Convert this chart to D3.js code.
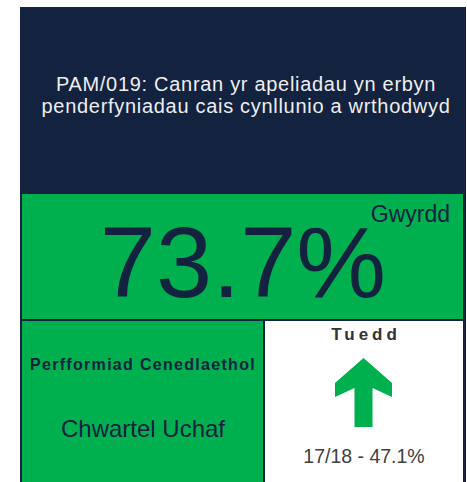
<!DOCTYPE html>
<html>
<head>
<meta charset="utf-8">
<script src="https://cdn.jsdelivr.net/npm/d3@7"></script>
<style>
  body { margin: 0; background: #fff; }
  svg { display: block; font-family: "Liberation Sans", Arial, sans-serif; }
</style>
</head>
<body>
<svg width="467" height="482"></svg>
<script>
// Card content
const titleLines = [
  "PAM/019: Canran yr apeliadau yn erbyn",
  "penderfyniadau cais cynllunio a wrthodwyd"
];
const kpiValue = [73.7];
const ragStatus = ["Gwyrdd"];
const nationalLabel = ["Perfformiad Cenedlaethol"];
const nationalQuartile = ["Chwartel Uchaf"];
const trendLabel = ["Tuedd"];
const trendDirection = ["up"];
const previousPeriod = ["17/18"];
const previousValue = [47.1];

const navy = "#13223e";
const green = "#00b04f";
const fmt = d3.format(".1f");

const svg = d3.select("svg");

// outer card (navy shows through as borders)
svg.append("rect")
  .attr("x", 20).attr("y", 7)
  .attr("width", 446).attr("height", 480)
  .attr("fill", navy);

// title
const title = svg.append("text")
  .attr("text-anchor", "middle")
  .attr("fill", "#eeeeee")
  .attr("font-size", 20)
  .attr("letter-spacing", 0.7);

title.selectAll("tspan")
  .data(titleLines)
  .join("tspan")
  .attr("x", 246)
  .attr("y", (d, i) => 91 + i * 22)
  .text(d => d);

// main value panel
svg.append("rect")
  .attr("x", 22).attr("y", 194)
  .attr("width", 441).attr("height", 125)
  .attr("fill", green);

svg.append("text")
  .attr("x", 243).attr("y", 297)
  .attr("text-anchor", "middle")
  .attr("fill", navy)
  .attr("font-size", 101)
  .text(fmt(kpiValue[0]) + "%");

svg.append("text")
  .attr("x", 450).attr("y", 222)
  .attr("text-anchor", "end")
  .attr("fill", navy)
  .attr("font-size", 23)
  .text(ragStatus[0]);

// national performance panel
svg.append("rect")
  .attr("x", 22).attr("y", 321)
  .attr("width", 241).attr("height", 170)
  .attr("fill", green);

svg.append("text")
  .attr("x", 143).attr("y", 370)
  .attr("text-anchor", "middle")
  .attr("fill", navy)
  .attr("font-size", 16)
  .attr("font-weight", "bold")
  .attr("letter-spacing", 1.3)
  .text(nationalLabel[0]);

svg.append("text")
  .attr("x", 143).attr("y", 437)
  .attr("text-anchor", "middle")
  .attr("fill", navy)
  .attr("font-size", 24)
  .text(nationalQuartile[0]);

// trend panel
svg.append("rect")
  .attr("x", 265).attr("y", 321)
  .attr("width", 198).attr("height", 170)
  .attr("fill", "#ffffff");

svg.append("text")
  .attr("x", 366).attr("y", 340)
  .attr("text-anchor", "middle")
  .attr("fill", "#333333")
  .attr("font-size", 17)
  .attr("font-weight", "bold")
  .attr("letter-spacing", 4)
  .text(trendLabel[0]);

// arrow icon
function arrowPath(cx, top, dir) {
  const p = d3.path();
  const hw = 28.5, sw = 9, wingY = 25, wingB = 39, notch = 30, len = 69;
  const s = dir === "up" ? 1 : -1;
  p.moveTo(cx, top);
  p.lineTo(cx + hw, top + s * wingY);
  p.lineTo(cx + hw, top + s * wingB);
  p.lineTo(cx + sw, top + s * notch);
  p.lineTo(cx + sw, top + s * len);
  p.lineTo(cx - sw, top + s * len);
  p.lineTo(cx - sw, top + s * notch);
  p.lineTo(cx - hw, top + s * wingB);
  p.lineTo(cx - hw, top + s * wingY);
  p.closePath();
  return p.toString();
}

svg.append("path")
  .attr("d", arrowPath(363.5, 358, trendDirection[0]))
  .attr("fill", green);

svg.append("text")
  .attr("x", 364).attr("y", 463)
  .attr("text-anchor", "middle")
  .attr("fill", "#404040")
  .attr("font-size", 19.5)
  .text(previousPeriod[0] + " - " + fmt(previousValue[0]) + "%");
</script>
</body>
</html>
